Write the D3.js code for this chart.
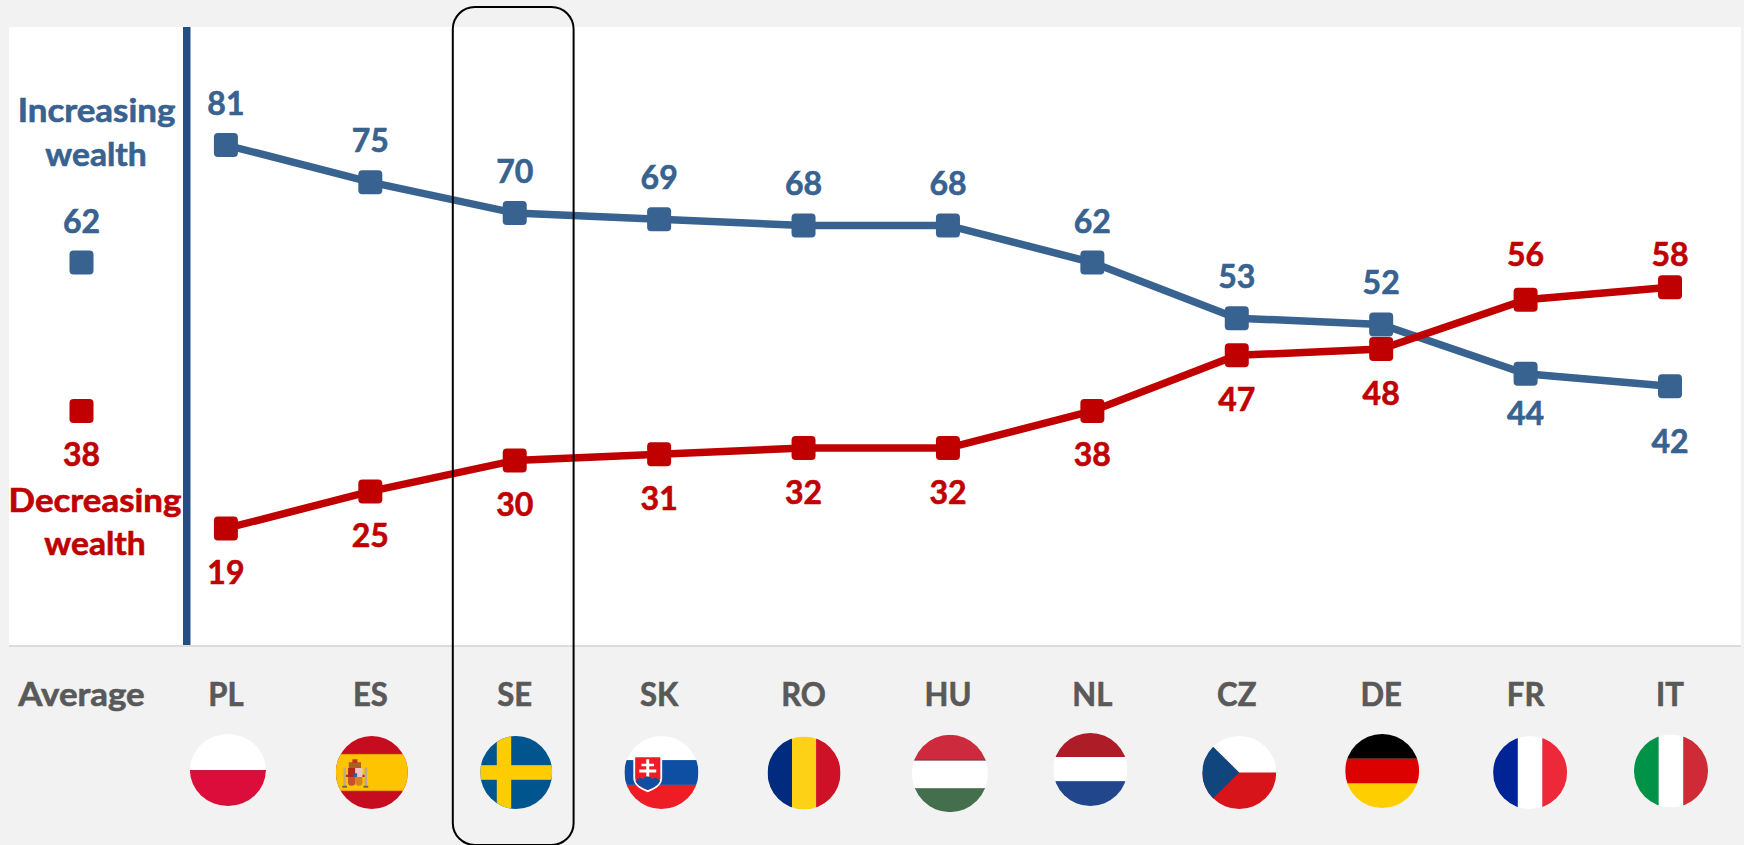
<!DOCTYPE html>
<html><head><meta charset="utf-8">
<style>html,body{margin:0;padding:0;background:#f2f2f2;overflow:hidden}svg{display:block}text{font-family:Lato,sans-serif;font-weight:700;stroke-width:.6px}</style>
<script src="https://cdn.jsdelivr.net/npm/d3@7/dist/d3.min.js"></script></head><body>
<script>
const countries=["PL","ES","SE","SK","RO","HU","NL","CZ","DE","FR","IT"];
const increasing=[81,75,70,69,68,68,62,53,52,44,42];
const decreasing=[19,25,30,31,32,32,38,47,48,56,58];
const avgLabel="Average";
const avgIncreasing=62;
const avgDecreasing=38;
const W=1744,H=845,blue="#38628F",red="#C00000",grey="#595959";
const svg=d3.select("body").append("svg").attr("width",W).attr("height",H);
const x=d3.scalePoint().domain([avgLabel,...countries]).range([81.5,1670]);
const y=d3.scaleLinear().domain([0,100]).range([646,27.5]);
svg.append("rect").attr("x",9).attr("y",27).attr("width",1732).attr("height",618).attr("fill","#fff");
svg.append("rect").attr("x",9).attr("y",645).attr("width",1732).attr("height",2).attr("fill","#dcdcdc");
svg.append("rect").attr("x",183).attr("y",27).attr("width",7.5).attr("height",618).attr("fill","#254F82");
const line=d3.line().x((d,i)=>x(countries[i])).y(d=>y(d));
// manual label shifts as in the reference
const labelShift={inc:{FR:-4.5,IT:11},dec:{FR:-3.7,IT:8.5}};
function label(px,py,txt,size,color,sx){
  svg.append("text").attr("transform",`translate(${px},${py}) scale(${sx||1},1)`).attr("text-anchor","middle")
    .attr("font-size",size).attr("fill",color).attr("stroke",color).text(txt);
}
function series(vals,avg,color,key,other){
  svg.append("path").datum(vals).attr("d",line).attr("fill","none").attr("stroke",color).attr("stroke-width",7.5);
  const pts=vals.map((v,i)=>({k:countries[i],v})).concat([{k:avgLabel,v:avg}]);
  svg.selectAll(null).data(pts).join("rect").attr("x",d=>x(d.k)-12).attr("y",d=>y(d.v)-12)
    .attr("width",24).attr("height",24).attr("rx",4).attr("fill",color);
  vals.forEach((v,i)=>{
    const k=countries[i], off=v>other[i]?-30:55.5;
    label(x(k),y(v)+off+(labelShift[key][k]||0),v,32,color);
  });
  label(x(avgLabel),y(avg)+(key==="inc"?-29.5:55.5),avg,32,color);
}
series(increasing,avgIncreasing,blue,"inc",decreasing);
series(decreasing,avgDecreasing,red,"dec",increasing);
[["Increasing",96.5,122,blue,1.09],["wealth",96,166,blue,1.05],["Decreasing",95,512,red,1.09],["wealth",95,555,red,1.05]].forEach(t=>label(t[1],t[2],t[0],32,t[3],t[4]));
label(x(avgLabel),706,avgLabel,32,grey,1.09);
countries.forEach(c=>label(x(c),706,c,32,grey,.97));

// flags: drawn in a 100x100 box clipped to an ellipse
const flagBox={PL:[2,770,38,36],ES:[1.5,772.5,36,36.5],SE:[1.5,772.5,36,36.5],SK:[2.3,772.5,37,36.5],RO:[.5,773,36.5,36.5],HU:[2,773.5,38,38.7],NL:[-2,769.5,37,36.5],CZ:[2.5,772.5,37,36.5],DE:[1,771,37,37],FR:[4.5,772.5,37,36.5],IT:[1,771,37,36.5]};
const h=(c,a,b)=>({c,x:0,y:a,w:100,h:b-a}), v=(c,a,b)=>({c,x:a,y:0,w:b-a,h:100});
const flagStripes={
 PL:[h("#fff",0,50),h("#DC0D3A",50,100),h("#C8183F",50,53)],
 ES:[h("#C60D1F",0,100),h("#FFC400",25,75),h("#E8A000",24.5,26),h("#E8A000",74,75.5)],
 SE:[h("#00558F",0,100),v("#FFCC00",23,43),h("#FFCC00",40,60)],
 SK:[h("#fff",0,33),h("#0E4EA3",33,67),h("#EE1C25",67,100)],
 RO:[v("#002B7F",0,33.5),v("#FCD116",33.5,66.5),v("#CE1126",66.5,100)],
 HU:[h("#CD2A3E",0,33),h("#7d3344",32,33.5),h("#fff",33.5,69),h("#436F4D",69,100)],
 NL:[h("#AE1C28",0,33),h("#fff",33,66),h("#21468B",66,100)],
 CZ:[h("#fff",0,50),h("#D7141A",50,100)],
 DE:[h("#000",0,33.5),h("#DD0000",33.5,67),h("#FFCE00",67,100)],
 FR:[v("#002395",0,33.5),v("#fff",33.5,66.5),v("#ED2939",66.5,100)],
 IT:[v("#009246",0,33.5),v("#fff",33.5,66.5),v("#CE2B37",66.5,100)]
};
const shapes={
 CZ:[["M0,0L50,50L0,100Z","#11457E"]],
 ES:[["M18,36H35V44H18Z","#A8611E"],["M23,32H30V37H23Z","#C9302A"],
     ["M10.5,43H14V69H10.5Z","#B7AD8E"],["M40,43H43.5V69H40Z","#B7AD8E"],["M9,68H15.5V71H9Z","#6E6A50"],["M38.5,68H45V71H38.5Z","#6E6A50"],
     ["M17,44H27V56H17Z","#B3261E"],["M27,44H37V56H27Z","#E4C7CC"],["M17,56H27V64Q27,68 22,68Q17,68 17,64Z","#C8502A"],["M27,56H37V64Q37,68 32,68Q27,68 27,64Z","#D9801E"],
     ["M24.5,51H29.5V56H24.5Z","#3A5A9B"],["M14,53H17V56H14Z","#C62828"],["M37,53H40V56H37Z","#C62828"]],
 SK:[["M12,27H51V58Q51,70 31.5,77Q12,70 12,58Z","#fff"],["M14.5,29H48.5V58Q48.5,68 31.5,74Q14.5,68 14.5,58Z","#EE1C25"],
     ["M29.5,32H33.5V38H40V41.5H33.5V46H43V50H33.5V58H29.5V50H20V46H29.5V41.5H23V38H29.5Z","#fff"],
     ["M15,62Q20,54 24.5,59Q31,51 38,59Q43,54 48,62Q45,69 31.5,74Q18,69 15,62Z","#0E4EA3"]]
};
const defs=svg.append("defs");
countries.forEach(k=>{
  const [dx,cy,rx,ry]=flagBox[k];
  defs.append("clipPath").attr("id","clip"+k).append("ellipse").attr("cx",50).attr("cy",50).attr("rx",50).attr("ry",50);
  const g=svg.append("g").attr("transform",`translate(${x(k)+dx-rx},${cy-ry}) scale(${rx/50},${ry/50})`)
     .append("g").attr("clip-path",`url(#clip${k})`);
  g.selectAll("rect").data(flagStripes[k]).join("rect").attr("x",d=>d.x).attr("y",d=>d.y).attr("width",d=>d.w).attr("height",d=>d.h).attr("fill",d=>d.c);
  g.selectAll("path").data(shapes[k]||[]).join("path").attr("d",d=>d[0]).attr("fill",d=>d[1]);
});
// highlight frame around SE
svg.append("rect").attr("x",452.8).attr("y",7).attr("width",120.8).attr("height",838).attr("rx",22).attr("fill","none").attr("stroke","#000").attr("stroke-width",2);
</script></body></html>
